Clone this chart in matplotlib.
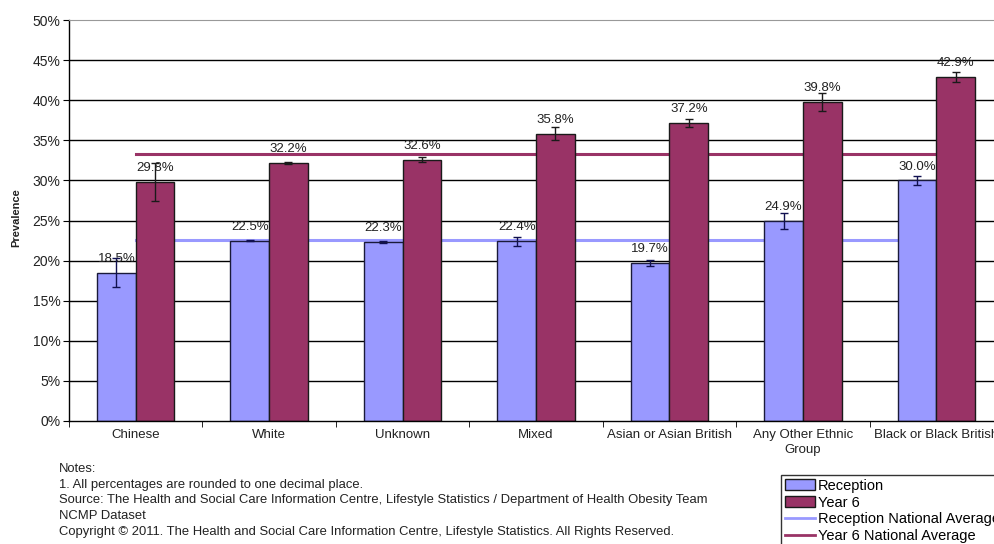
import numpy as np
import matplotlib
matplotlib.use("Agg")
import matplotlib.pyplot as plt
from matplotlib.patches import Patch
from matplotlib.lines import Line2D

plt.rcParams['font.family'] = ['Liberation Sans', 'DejaVu Sans']

# Data
groups = ['Chinese', 'White', 'Unknown', 'Mixed', 'Asian or Asian British',
          'Any Other Ethnic\nGroup', 'Black or Black British']
reception = [18.5, 22.5, 22.3, 22.4, 19.7, 24.9, 30.0]
year6 = [29.8, 32.2, 32.6, 35.8, 37.2, 39.8, 42.9]
reception_err = [1.8, 0.05, 0.1, 0.6, 0.4, 1.0, 0.55]
year6_err = [2.35, 0.1, 0.3, 0.8, 0.5, 1.1, 0.65]
reception_avg = 22.6
year6_avg = 33.3

c_rec = '#9999ff'
c_y6 = '#993366'

W, H = 994, 544
fig = plt.figure(figsize=(W / 100, H / 100), dpi=100)
ax = fig.add_axes([69 / W, 1 - 421 / H, (1003 - 69) / W, (421 - 20) / H])

x = np.arange(len(groups))
bw = 0.29

# gridlines
for v in range(5, 50, 5):
    ax.axhline(v, color='black', lw=1.0, zorder=0)

# national averages (line from first to last category centre)
ax.plot([x[0], x[-1]], [reception_avg] * 2, color=c_rec, lw=2.2, zorder=1)
ax.plot([x[0], x[-1]], [year6_avg] * 2, color=c_y6, lw=2.2, zorder=1)

ax.bar(x - bw / 2, reception, bw, color=c_rec, edgecolor='#1a1a3a', lw=1.0, zorder=2)
ax.bar(x + bw / 2, year6, bw, color=c_y6, edgecolor='#1a1a1a', lw=1.0, zorder=2)

ax.errorbar(x - bw / 2, reception, yerr=reception_err, fmt='none', ecolor='#101050',
            elinewidth=1.0, capsize=3, capthick=1.0, zorder=3)
ax.errorbar(x + bw / 2, year6, yerr=year6_err, fmt='none', ecolor='#1a1a1a',
            elinewidth=1.0, capsize=3, capthick=1.0, zorder=3)

for xi, v in zip(x - bw / 2, reception):
    ax.annotate(f'{v:.1f}%', (xi, v), xytext=(0, 10), textcoords='offset points',
                ha='center', va='center', fontsize=9.5, color='#222222', zorder=4)
for xi, v in zip(x + bw / 2, year6):
    ax.annotate(f'{v:.1f}%', (xi, v), xytext=(0, 10), textcoords='offset points',
                ha='center', va='center', fontsize=9.5, color='#222222', zorder=4)

ax.set_xlim(-0.5, len(groups) - 0.5)
ax.set_ylim(0, 50)
ax.set_yticks(range(0, 51, 5))
ax.set_yticklabels([f'{v}%' for v in range(0, 51, 5)], fontsize=10, color='#222222')
ax.set_xticks(x)
ax.set_xticklabels(groups, fontsize=9.5, color='#222222', linespacing=1.3)
ax.set_xticks(np.arange(-0.5, len(groups), 1), minor=True)
ax.tick_params(axis='x', which='major', length=0, pad=6)
ax.tick_params(axis='x', which='minor', length=4, direction='out')
ax.tick_params(axis='y', length=4, direction='out', pad=2)

ax.spines['right'].set_visible(False)
ax.spines['top'].set_color('#999999')
ax.spines['left'].set_linewidth(1.0)
ax.spines['bottom'].set_linewidth(1.0)

fig.text(16 / W, 1 - 218 / H, 'Prevalence', rotation=90, fontsize=8,
         fontweight='bold', ha='center', va='center', color='#222222')

notes = ['Notes:',
         '1. All percentages are rounded to one decimal place.',
         'Source: The Health and Social Care Information Centre, Lifestyle Statistics / Department of Health Obesity Team',
         'NCMP Dataset',
         'Copyright \u00a9 2011. The Health and Social Care Information Centre, Lifestyle Statistics. All Rights Reserved.']
for i, line in enumerate(notes):
    fig.text(59 / W, 1 - (469 + 15.7 * i) / H, line, fontsize=9.4, ha='left',
             va='center', color='#222222')

handles = [Patch(facecolor=c_rec, edgecolor='#1a1a1a', lw=1.0),
           Patch(facecolor=c_y6, edgecolor='#1a1a1a', lw=1.0),
           Line2D([], [], color=c_rec, lw=2),
           Line2D([], [], color=c_y6, lw=2)]
labels = ['Reception', 'Year 6', 'Reception National Average', 'Year 6 National Average']
leg = fig.legend(handles, labels, loc='upper left', bbox_to_anchor=(781 / W, 1 - 475 / H),
                 fontsize=10.5, frameon=True, fancybox=False, edgecolor='black',
                 handlelength=2.1, handleheight=0.7, handletextpad=0.2,
                 borderpad=0.25, labelspacing=0.2, borderaxespad=0)
leg.get_frame().set_linewidth(1.0)

fig.savefig('out.png', dpi=100)
